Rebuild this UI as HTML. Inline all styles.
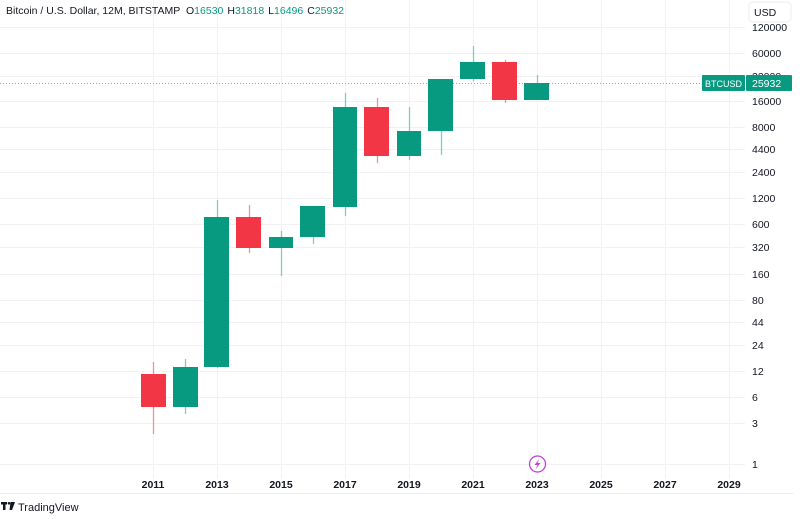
<!DOCTYPE html>
<html><head><meta charset="utf-8"><style>
html,body{margin:0;padding:0;background:#fff;}
svg{display:block;font-family:"Liberation Sans",sans-serif;}
</style></head><body>
<svg width="800" height="519" viewBox="0 0 800 519" xmlns="http://www.w3.org/2000/svg">
<rect width="800" height="519" fill="#fff"/>
<g stroke="#f2f2f4" stroke-width="1">
<line x1="0" x2="745" y1="27.5" y2="27.5"/><line x1="0" x2="745" y1="53.5" y2="53.5"/>
<line x1="0" x2="745" y1="76.5" y2="76.5"/><line x1="0" x2="745" y1="101.5" y2="101.5"/>
<line x1="0" x2="745" y1="127.5" y2="127.5"/><line x1="0" x2="745" y1="149.5" y2="149.5"/>
<line x1="0" x2="745" y1="172.5" y2="172.5"/><line x1="0" x2="745" y1="198.5" y2="198.5"/>
<line x1="0" x2="745" y1="224.5" y2="224.5"/><line x1="0" x2="745" y1="247.5" y2="247.5"/>
<line x1="0" x2="745" y1="274.5" y2="274.5"/><line x1="0" x2="745" y1="300.5" y2="300.5"/>
<line x1="0" x2="745" y1="322.5" y2="322.5"/><line x1="0" x2="745" y1="345.5" y2="345.5"/>
<line x1="0" x2="745" y1="371.5" y2="371.5"/><line x1="0" x2="745" y1="397.5" y2="397.5"/>
<line x1="0" x2="745" y1="423.5" y2="423.5"/><line x1="0" x2="745" y1="464.5" y2="464.5"/>
<line x1="153.5" x2="153.5" y1="0" y2="478"/><line x1="217.5" x2="217.5" y1="0" y2="478"/>
<line x1="281.5" x2="281.5" y1="0" y2="478"/><line x1="345.5" x2="345.5" y1="0" y2="478"/>
<line x1="409.5" x2="409.5" y1="0" y2="478"/><line x1="473.5" x2="473.5" y1="0" y2="478"/>
<line x1="537.5" x2="537.5" y1="0" y2="478"/><line x1="601.5" x2="601.5" y1="0" y2="478"/>
<line x1="665.5" x2="665.5" y1="0" y2="478"/><line x1="729.5" x2="729.5" y1="0" y2="478"/>
<line x1="0" x2="793" y1="493.5" y2="493.5" stroke="#ebebee"/>
</g>
<line x1="0" x2="702" y1="83.5" y2="83.5" stroke="#5fbfad" stroke-width="1" stroke-dasharray="1,2"/>
<g stroke-width="1.3">
<line x1="153.5" x2="153.5" y1="362" y2="434" stroke="#f78d96"/><rect x="141" y="374" width="25" height="33" fill="#f23645"/>
<line x1="185.5" x2="185.5" y1="359" y2="414" stroke="#7fccbf"/><rect x="173" y="367" width="25" height="40" fill="#089981"/>
<line x1="217.5" x2="217.5" y1="200" y2="368" stroke="#7fccbf"/><rect x="204" y="217" width="25" height="150" fill="#089981"/>
<line x1="249.5" x2="249.5" y1="205" y2="253" stroke="#f78d96"/><rect x="236" y="217" width="25" height="31" fill="#f23645"/>
<line x1="281.5" x2="281.5" y1="231" y2="276" stroke="#7fccbf"/><rect x="269" y="237" width="24" height="11" fill="#089981"/>
<line x1="313.5" x2="313.5" y1="206" y2="244" stroke="#7fccbf"/><rect x="300" y="206" width="25" height="31" fill="#089981"/>
<line x1="345.5" x2="345.5" y1="93" y2="216" stroke="#7fccbf"/><rect x="333" y="107" width="24" height="100" fill="#089981"/>
<line x1="377.5" x2="377.5" y1="98" y2="163" stroke="#f78d96"/><rect x="364" y="107" width="25" height="49" fill="#f23645"/>
<line x1="409.5" x2="409.5" y1="107" y2="160" stroke="#7fccbf"/><rect x="397" y="131" width="24" height="25" fill="#089981"/>
<line x1="441.5" x2="441.5" y1="79" y2="155" stroke="#7fccbf"/><rect x="428" y="79" width="25" height="52" fill="#089981"/>
<line x1="473.5" x2="473.5" y1="46" y2="81" stroke="#7fccbf"/><rect x="460" y="62" width="25" height="17" fill="#089981"/>
<line x1="505.5" x2="505.5" y1="60" y2="103" stroke="#f78d96"/><rect x="492" y="62" width="25" height="38" fill="#f23645"/>
<line x1="537.5" x2="537.5" y1="75" y2="100" stroke="#7fccbf"/><rect x="524" y="83" width="25" height="17" fill="#089981"/>
</g>
<g font-size="10.5" fill="#131722">
<text x="752" y="31">120000</text><text x="752" y="57">60000</text><text x="752" y="80">32000</text>
<text x="752" y="105">16000</text><text x="752" y="131">8000</text><text x="752" y="153">4400</text>
<text x="752" y="176">2400</text><text x="752" y="202">1200</text><text x="752" y="228">600</text>
<text x="752" y="251">320</text><text x="752" y="278">160</text><text x="752" y="304">80</text>
<text x="752" y="326">44</text><text x="752" y="349">24</text><text x="752" y="375">12</text>
<text x="752" y="401">6</text><text x="752" y="427">3</text><text x="752" y="468">1</text>
</g>
<rect x="749" y="2" width="42" height="20" rx="4" fill="#fff" stroke="#eeeef0"/>
<text x="754" y="16" font-size="10.5" fill="#131722">USD</text>
<rect x="702" y="75" width="43" height="16" rx="1" fill="#089981"/>
<text x="705" y="87" font-size="9.5" fill="#fff" textLength="37" lengthAdjust="spacingAndGlyphs">BTCUSD</text>
<rect x="746" y="75" width="46" height="16" rx="1" fill="#089981"/>
<text x="752" y="87" font-size="10.5" fill="#fff">25932</text>
<g font-size="10.5" font-weight="bold" fill="#131722" text-anchor="middle">
<text x="153" y="488">2011</text><text x="217" y="488">2013</text><text x="281" y="488">2015</text>
<text x="345" y="488">2017</text><text x="409" y="488">2019</text><text x="473" y="488">2021</text>
<text x="537" y="488">2023</text><text x="601" y="488">2025</text><text x="665" y="488">2027</text>
<text x="729" y="488">2029</text>
</g>
<circle cx="537.5" cy="464" r="8" fill="#fff" stroke="#c142d6" stroke-width="1.3"/>
<path d="M539.5 458.5 L534.5 465 L537.5 465 L535.5 469.5 L540.5 463 L537.5 463 Z" fill="#c142d6"/>
<text x="6" y="14" font-size="10.5" fill="#131722">Bitcoin / U.S. Dollar, 12M, BITSTAMP <tspan dx="3">O</tspan><tspan fill="#089981">16530</tspan><tspan dx="4">H</tspan><tspan fill="#089981">31818</tspan><tspan dx="4">L</tspan><tspan fill="#089981">16496</tspan><tspan dx="4">C</tspan><tspan fill="#089981">25932</tspan></text>
<rect x="1" y="502" width="6" height="2.5" fill="#131722"/><rect x="3" y="502" width="2.5" height="8" fill="#131722"/>
<circle cx="9" cy="503.3" r="1.3" fill="#131722"/>
<path d="M10.5 502 L15 502 L12 510 L9.5 510 Z" fill="#131722"/>
<text x="18" y="511" font-size="11" fill="#131722">TradingView</text>
</svg>
</body></html>
